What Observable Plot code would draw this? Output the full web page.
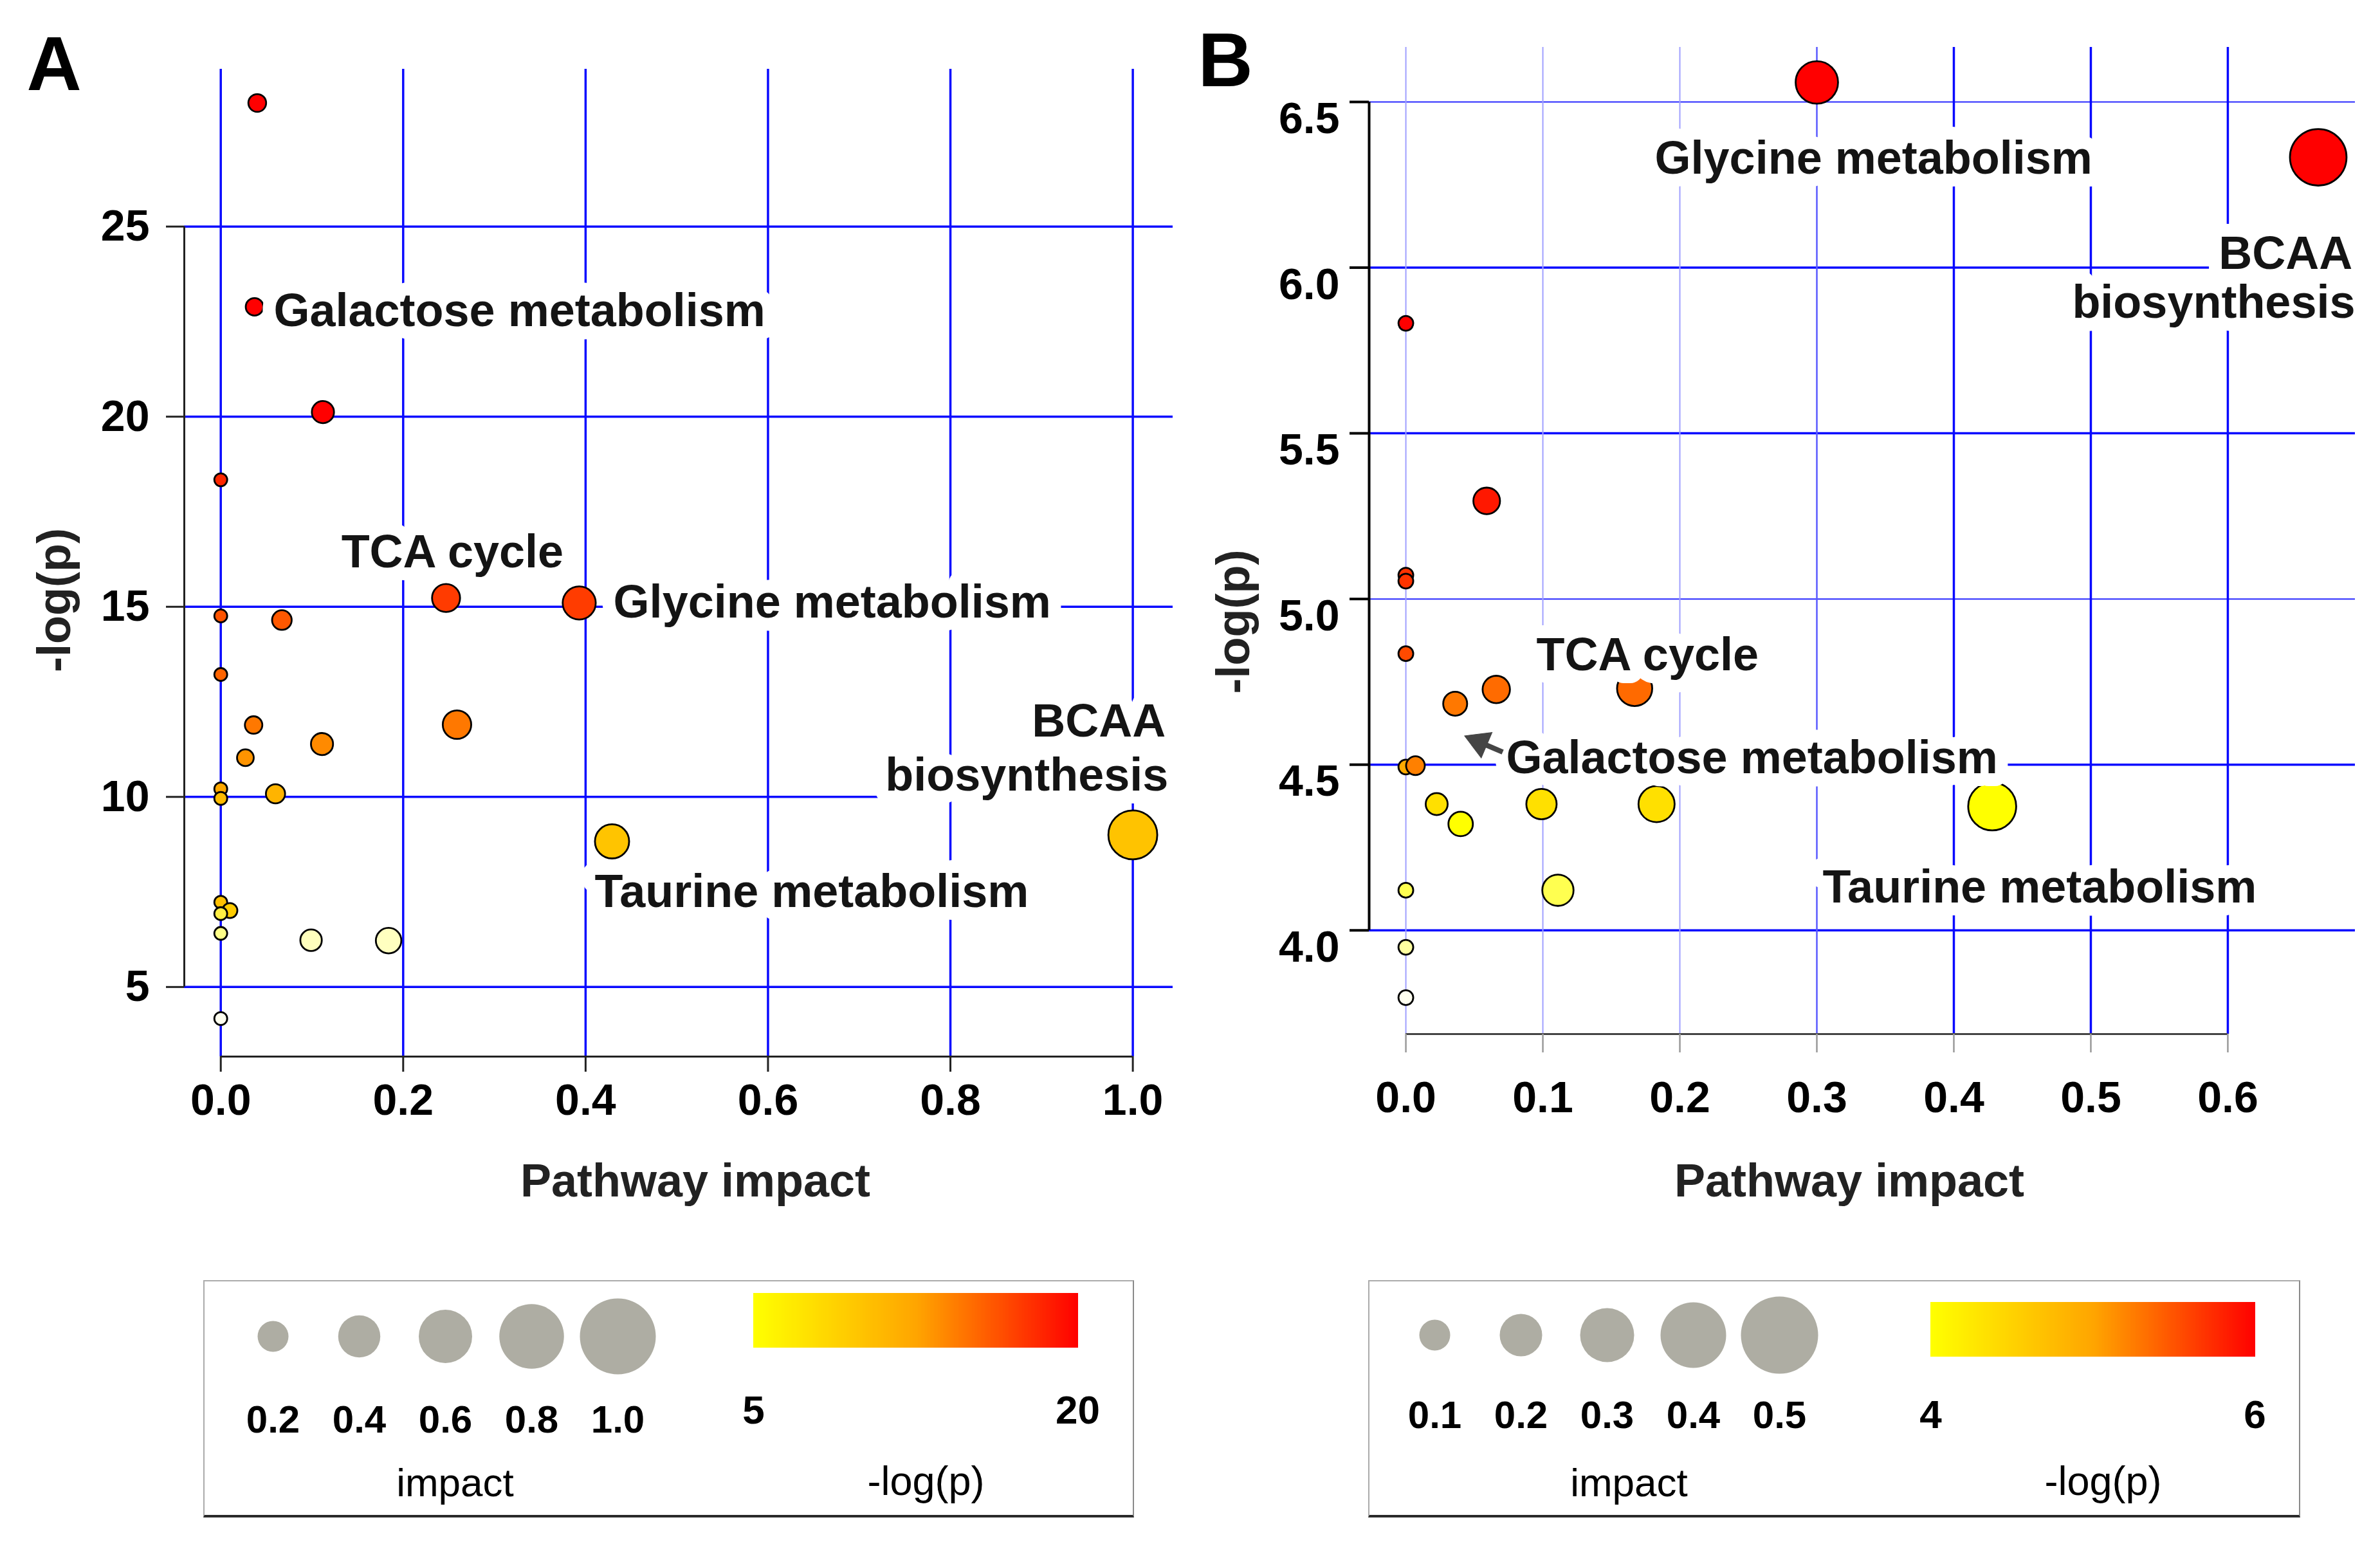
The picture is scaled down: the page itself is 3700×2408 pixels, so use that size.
<!DOCTYPE html>
<html>
<head>
<meta charset="utf-8">
<script src="https://cdn.jsdelivr.net/npm/d3@7"></script>
<script src="https://cdn.jsdelivr.net/npm/@observablehq/plot@0.6"></script>
<style>
  html, body { margin: 0; padding: 0; background: #fff; }
  #root { position: relative; width: 3700px; height: 2408px; background: #fff; overflow: hidden;
          font-family: 'Liberation Sans', Arial, sans-serif; }
  #root > * { position: absolute; }
  .legend-box { box-sizing: border-box; border: 2px solid #ababab; border-right: 2px solid #8a8a8a;
                border-bottom: 4px solid #2a2a2a; background: #fff; }
</style>
</head>
<body>
<div id="root"></div>
<script>
// ---------------- Panel A data ----------------
const impactA = [0.040, 0.037, 0.112, 0, 0.247, 0.393, 0, 0.067, 0, 0.036, 0.259, 0.111, 0.027,
                 0, 0, 0.060, 0.429, 1.0, 0, 0.010, 0, 0, 0.099, 0.184, 0];
const logpA   = [28.25, 22.89, 20.12, 18.34, 15.23, 15.10, 14.76, 14.65, 13.22, 11.89, 11.90, 11.39, 11.03,
                 10.21, 9.96, 10.08, 8.83, 9.00, 7.23, 7.01, 6.93, 6.41, 6.23, 6.22, 4.17];
const xTicksA = [0, 0.2, 0.4, 0.6, 0.8, 1.0];
const yTicksA = [5, 10, 15, 20, 25];
const labelTextA   = ["Galactose metabolism", "TCA cycle", "Glycine metabolism", "BCAA", "biosynthesis", "Taurine metabolism"];
const labelImpactA = [0.058, 0.254, 0.4305, 1.036, 1.039, 0.410];
const labelLogpA   = [22.77, 16.43, 15.10, 11.98, 10.55, 7.49];
const labelAlignA  = ["start", "middle", "start", "end", "end", "start"];

// ---------------- Panel B data ----------------
const impactB = [0.300, 0.666, 0, 0.059, 0, 0, 0, 0.066, 0.036, 0.167, 0, 0.007, 0.0225, 0.040,
                 0.099, 0.183, 0.428, 0.111, 0, 0, 0];
const logpB   = [6.559, 6.333, 5.832, 5.296, 5.072, 5.054, 4.835, 4.727, 4.684, 4.730, 4.493, 4.497, 4.381, 4.321,
                 4.381, 4.381, 4.374, 4.121, 4.121, 3.949, 3.797];
const xTicksB = [0, 0.1, 0.2, 0.3, 0.4, 0.5, 0.6];
const yTicksB = [4.0, 4.5, 5.0, 5.5, 6.0, 6.5];
const labelTextB   = ["Glycine metabolism", "BCAA", "biosynthesis", "TCA cycle", "Galactose metabolism", "Taurine metabolism"];
const labelImpactB = [0.1817, 0.691, 0.693, 0.0953, 0.0732, 0.3042];
const labelLogpB   = [6.328, 6.041, 5.893, 4.830, 4.519, 4.129];
const labelAlignB  = ["start", "end", "end", "start", "start", "start"];
const arrowFromB = [0.0707, 4.538];
const arrowToB   = [0.0429, 4.587];

// ---------------- Legends ----------------
const sizeLegendA = [0.2, 0.4, 0.6, 0.8, 1.0];
const colorLegendA = [5, 20];
const sizeLegendB = [0.1, 0.2, 0.3, 0.4, 0.5];
const colorLegendB = [4, 6];

// ---------------- colour stops ----------------
const colorStopsA = [4.17, 6.22, 6.41, 6.93, 7.01, 7.23, 8.83, 9.96, 10.08, 10.21, 11.03, 11.39, 11.9, 13.22, 14.7, 15.1, 18.3, 20.1];
const colorRangeA = ["#fffff0", "#ffffc0", "#ffff88", "#ffee44", "#ffcc00", "#ffc000", "#ffc400", "#ffbb00", "#ffb400",
                     "#ffa800", "#ff9400", "#ff8a00", "#ff7800", "#ff6400", "#ff5800", "#ff3c00", "#ff2800", "#ff0000"];
const colorStopsB = [3.797, 3.949, 4.121, 4.321, 4.374, 4.381, 4.493, 4.497, 4.684, 4.73, 4.835, 5.06, 5.3, 5.8];
const colorRangeB = ["#fffff0", "#ffffa0", "#ffff50", "#ffff00", "#ffff00", "#ffe000", "#ffaa00", "#ff8000",
                     "#ff7800", "#ff6a00", "#ff4a00", "#ff3300", "#ff1800", "#ff0000"];

const FONT = "'Liberation Sans', Arial, sans-serif";
const fmt1 = d3.format(".1f");
const root = document.getElementById("root");
function place(el, left, top) { el.style.left = left + "px"; el.style.top = top + "px"; root.appendChild(el); return el; }
const baseStyle = {fontFamily: FONT, background: "transparent", overflow: "visible", color: "black"};

function labelMarks(idx, tx, lx, ly, align) {
  return ["start", "middle", "end"].map(a => Plot.text(idx.filter(i => align[i] === a), {
    x: i => lx[i], y: i => ly[i], text: i => tx[i], textAnchor: a, lineAnchor: "middle",
    fontSize: 72, fontWeight: "bold", fill: "#141414", stroke: "white", strokeWidth: 40, strokeLinejoin: "round"
  }));
}

// ---------------- Panel A ----------------
const xDomA = [-0.04, 1.044], yDomA = [3.17, 29.14];
const idxA = d3.range(impactA.length);
const labIdxA = d3.range(labelTextA.length);
const plotA = Plot.plot({
  width: 1850, height: 1900,
  marginLeft: 286, marginRight: 27, marginTop: 107, marginBottom: 258,
  x: {domain: xDomA}, y: {domain: yDomA},
  r: {type: "pow", exponent: 0.62, domain: [0, 1], range: [10, 38]},
  color: {type: "linear", domain: colorStopsA, range: colorRangeA, clamp: true, interpolate: "rgb"},
  style: baseStyle,
  marks: [
    Plot.ruleY(yTicksA, {y: d => d, stroke: "#0a0aff", strokeWidth: 3.5}),
    Plot.ruleX(xTicksA, {x: d => d, stroke: "#0a0aff", strokeWidth: 3.5}),
    Plot.ruleX([xDomA[0]], {x: d => d, y1: () => d3.min(yTicksA), y2: () => d3.max(yTicksA), stroke: "#222", strokeWidth: 3}),
    Plot.ruleY([yDomA[0]], {y: d => d, x1: () => d3.min(xTicksA), x2: () => d3.max(xTicksA), stroke: "#222", strokeWidth: 3}),
    Plot.axisY(yTicksA, {tickSize: 28, fill: null, stroke: "#222", strokeWidth: 3, label: null}),
    Plot.axisX(xTicksA, {tickSize: 24, fill: null, stroke: "#222", strokeWidth: 3, label: null}),
    Plot.text(yTicksA, {y: d => d, text: d => String(d), frameAnchor: "left", dx: -54, textAnchor: "end",
      lineAnchor: "middle", fontSize: 68, fontWeight: "bold", fill: "black"}),
    Plot.text(xTicksA, {x: d => d, text: d => fmt1(d), frameAnchor: "bottom", dy: 69, textAnchor: "middle",
      lineAnchor: "middle", fontSize: 68, fontWeight: "bold", fill: "black"}),
    Plot.dot(idxA, {x: i => impactA[i], y: i => logpA[i], r: i => impactA[i], fill: i => logpA[i],
      stroke: "black", strokeWidth: 2.8, sort: null}),
    ...labelMarks(labIdxA, labelTextA, labelImpactA, labelLogpA, labelAlignA),
    Plot.text(["Pathway impact"], {text: d => d, frameAnchor: "bottom", dx: 26, dy: 194, textAnchor: "middle",
      lineAnchor: "middle", fontSize: 72, fontWeight: "bold", fill: "#222"}),
    Plot.text(["-log(p)"], {text: d => d, frameAnchor: "left", rotate: -90, dx: -201, dy: 58, textAnchor: "middle",
      lineAnchor: "middle", fontSize: 72, fontWeight: "bold", fill: "#222"}),
    Plot.text(["A"], {text: d => d, frameAnchor: "top-left", dx: -245, dy: 32, textAnchor: "start",
      lineAnchor: "bottom", fontSize: 118, fontWeight: "bold", fill: "black"})
  ]
});
place(plotA, 0, 0);

// ---------------- Panel B ----------------
const xDomB = [-0.0268, 0.693], yDomB = [3.687, 6.665];
const idxB = d3.range(impactB.length);
const labIdxB = d3.range(labelTextB.length);
// arrow head (filled triangle) sits at the tip end of the arrow; shaft runs from the tail into the head
const along = t => [arrowToB[0] + (arrowFromB[0] - arrowToB[0]) * t, arrowToB[1] + (arrowFromB[1] - arrowToB[1]) * t];
const headCenterB = along(0.385);
const shaftEndB = along(0.5);
const plotB = Plot.plot({
  width: 1850, height: 1900,
  marginLeft: 278, marginRight: 39, marginTop: 73, marginBottom: 293,
  x: {domain: xDomB}, y: {domain: yDomB},
  r: {type: "pow", exponent: 0.52, domain: [0, 0.667], range: [11.5, 44]},
  color: {type: "linear", domain: colorStopsB, range: colorRangeB, clamp: true, interpolate: "rgb"},
  style: baseStyle,
  marks: [
    Plot.ruleY(yTicksB.filter(v => v === 5.0 || v === 6.5), {y: d => d, stroke: "#2a2aff", strokeWidth: 2}),
    Plot.ruleY(yTicksB.filter(v => v !== 5.0 && v !== 6.5), {y: d => d, stroke: "#0808ff", strokeWidth: 3.5}),
    Plot.ruleX(xTicksB.filter(v => v < 0.25), {x: d => d, stroke: "#a0a0ff", strokeWidth: 2}),
    Plot.ruleX(xTicksB.filter(v => v > 0.25 && v < 0.35), {x: d => d, stroke: "#5a5aff", strokeWidth: 2.5}),
    Plot.ruleX(xTicksB.filter(v => v > 0.35), {x: d => d, stroke: "#0808ff", strokeWidth: 3.5}),
    Plot.ruleX([xDomB[0]], {x: d => d, y1: () => d3.min(yTicksB), y2: () => d3.max(yTicksB), stroke: "black", strokeWidth: 4}),
    Plot.ruleY([yDomB[0]], {y: d => d, x1: () => d3.min(xTicksB), x2: () => d3.max(xTicksB), stroke: "#444", strokeWidth: 3}),
    Plot.axisY(yTicksB, {tickSize: 30, fill: null, stroke: "black", strokeWidth: 4, label: null}),
    Plot.axisX(xTicksB, {tickSize: 29, fill: null, stroke: "#9a9a9a", strokeWidth: 2.5, label: null}),
    Plot.text(yTicksB, {y: d => d, text: d => fmt1(d), frameAnchor: "left", dx: -46, dy: 27, textAnchor: "end",
      lineAnchor: "middle", fontSize: 68, fontWeight: "bold", fill: "black"}),
    Plot.text(xTicksB, {x: d => d, text: d => fmt1(d), frameAnchor: "bottom", dy: 100, textAnchor: "middle",
      lineAnchor: "middle", fontSize: 68, fontWeight: "bold", fill: "black"}),
    Plot.dot(idxB, {x: i => impactB[i], y: i => logpB[i], r: i => impactB[i], fill: i => logpB[i],
      stroke: "black", strokeWidth: 2.8, sort: null}),
    ...labelMarks(labIdxB, labelTextB, labelImpactB, labelLogpB, labelAlignB),
    Plot.link([0], {x1: () => arrowFromB[0], y1: () => arrowFromB[1], x2: () => shaftEndB[0], y2: () => shaftEndB[1],
      stroke: "#454545", strokeWidth: 8}),
    Plot.dot([0], {x: () => headCenterB[0], y: () => headCenterB[1], symbol: "triangle", r: 16, rotate: -67,
      fill: "#454545", stroke: "#454545", strokeWidth: 1}),
    Plot.text(["Pathway impact"], {text: d => d, frameAnchor: "bottom", dx: -20, dy: 229, textAnchor: "middle",
      lineAnchor: "middle", fontSize: 72, fontWeight: "bold", fill: "#222"}),
    Plot.text(["-log(p)"], {text: d => d, frameAnchor: "left", rotate: -90, dx: -210, dy: 126, textAnchor: "middle",
      lineAnchor: "middle", fontSize: 72, fontWeight: "bold", fill: "#222"}),
    Plot.text(["B"], {text: d => d, frameAnchor: "top-left", dx: -266, dy: 60, textAnchor: "start",
      lineAnchor: "bottom", fontSize: 118, fontWeight: "bold", fill: "black"})
  ]
});
place(plotB, 1850, 0);

// ---------------- Legends ----------------
function legendBox(left, top, w, h) {
  const d = document.createElement("div");
  d.className = "legend-box";
  d.style.width = w + "px"; d.style.height = h + "px";
  return place(d, left, top);
}
function sizeLegend(values, xRange, rRange, circleTop, labelDy, titleDx) {
  return Plot.plot({
    width: 720, height: 369, marginLeft: 0, marginRight: 0, marginTop: circleTop, marginBottom: 0,
    x: {domain: d3.extent(values), range: xRange, axis: null},
    r: {type: "linear", domain: d3.extent(values), range: rRange},
    style: baseStyle,
    marks: [
      Plot.dot(values, {x: d => d, r: d => d, frameAnchor: "top", fill: "#aeada3", stroke: null}),
      Plot.text(values, {x: d => d, text: d => fmt1(d), frameAnchor: "top", dy: labelDy, lineAnchor: "middle",
        textAnchor: "middle", fontSize: 60, fontWeight: "bold", fill: "black"}),
      Plot.text(["impact"], {x: () => d3.mean(d3.extent(values)), text: d => d, frameAnchor: "top",
        dy: 313 - circleTop + 3, dx: titleDx, lineAnchor: "middle", textAnchor: "middle", fontSize: 62, fill: "black"})
    ]
  });
}
function colorLegend(ticks, xRange, barTop, barBottom, labelDy, titleDy) {
  const steps = d3.range(200).map(i => ticks[0] + (ticks[1] - ticks[0]) * i / 200);
  const step = (ticks[1] - ticks[0]) / 200;
  return Plot.plot({
    width: 1447, height: 369, marginLeft: 0, marginRight: 0, marginTop: barTop, marginBottom: 369 - barBottom,
    x: {domain: ticks, range: xRange, axis: null},
    color: {type: "linear", domain: [ticks[0], (ticks[0] + ticks[1]) / 2, ticks[1]],
            range: ["#ffff00", "#ffa500", "#ff0000"], interpolate: "rgb"},
    style: baseStyle,
    marks: [
      Plot.rect(steps, {x1: d => d, x2: d => d + step * 1.5, fill: d => d, shapeRendering: "crispEdges"}),
      Plot.text(ticks, {x: d => d, text: d => String(d), frameAnchor: "bottom", dy: labelDy, lineAnchor: "middle",
        textAnchor: "middle", fontSize: 62, fontWeight: "bold", fill: "black"}),
      Plot.text(["-log(p)"], {x: () => d3.mean(ticks), text: d => d, frameAnchor: "bottom", dy: titleDy, dx: 16,
        lineAnchor: "middle", textAnchor: "middle", fontSize: 63, fill: "black"})
    ]
  });
}
legendBox(316, 1990, 1447, 369);
place(sizeLegend(sizeLegendA, [108, 644], [24, 59], 87, 130, 15), 316, 1990);
place(colorLegend(colorLegendA, [855, 1359], 20, 105, 98, 208), 316, 1990);

legendBox(2127, 1990, 1449, 369);
place(sizeLegend(sizeLegendB, [103, 639], [24, 60], 85, 125, 34), 2127, 1990);
place(colorLegend(colorLegendB, [874, 1378], 34, 119, 91, 194), 2127, 1990);
</script>
</body>
</html>
